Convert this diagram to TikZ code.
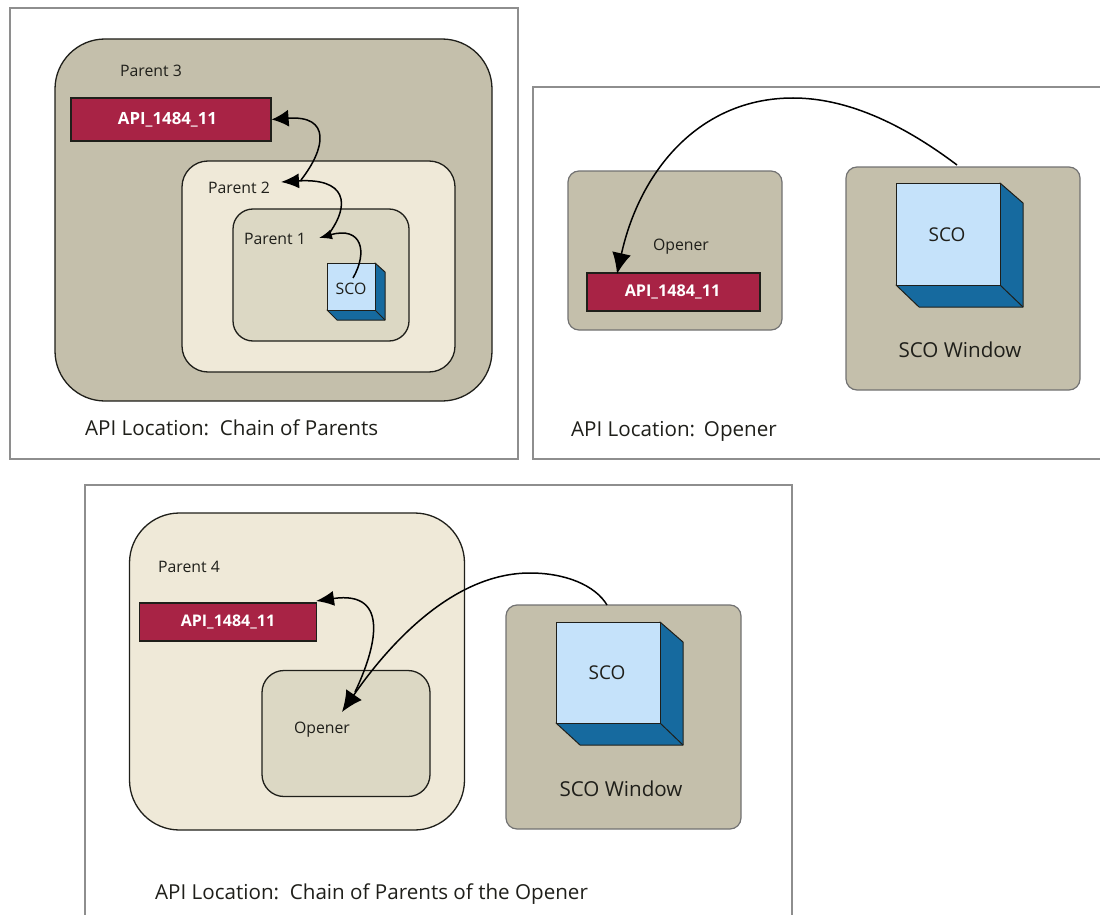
\documentclass[tikz,border=0pt]{standalone}
\usepackage{fontspec}
\setmainfont{Open Sans}
\usetikzlibrary{arrows.meta}
\definecolor{framegray}{HTML}{8E8E8E}
\definecolor{khaki}{HTML}{C4BFAB}
\definecolor{cream}{HTML}{EFE9D8}
\definecolor{pale}{HTML}{DCD8C4}
\definecolor{apired}{HTML}{A82345}
\definecolor{cubefront}{HTML}{C5E2FA}
\definecolor{cubeside}{HTML}{166A9F}
\definecolor{ink}{HTML}{1F1F1A}
\tikzset{
  panel/.style={draw=framegray,line width=1.4pt,fill=white,rectangle,inner sep=0pt},
  zone/.style={draw=ink,line width=1.3pt,rectangle,inner sep=0pt},
  winbox/.style={draw=framegray!80!black,line width=1.2pt,fill=khaki,rectangle,rounded corners=11pt,inner sep=0pt},
  apibox/.style={draw=ink,line width=1.2pt,fill=apired,rectangle,inner sep=0pt,text=white,font=\bfseries\fontsize{16.8}{19}\selectfont},
  front/.style={draw=ink,line width=1pt,fill=cubefront,rectangle,inner sep=0pt},
  side/.style={draw=ink,line width=1pt,fill=cubeside,line join=round},
  lab/.style={text=ink,inner sep=0pt,font=\fontsize{15.8}{18}\selectfont},
  biglab/.style={text=ink,inner sep=0pt,font=\fontsize{19}{22}\selectfont},
  bigcaption/.style={text=ink,inner sep=0pt,font=\fontsize{20.6}{24}\selectfont},
  link/.style={draw=black,line width=1.5pt},
  bigtip/.style={-{Latex[length=21pt,width=19pt]}},
  apitip/.style={-{Latex[length=17pt,width=17pt]}},
  midtip/.style={-{Latex[length=18pt,width=15pt]}},
  smalltip/.style={-{Latex[length=13pt,width=10pt]}},
}
\begin{document}
\begin{tikzpicture}[x=1pt,y=-1pt]
\useasboundingbox (0,0) rectangle (1100,915);
\fill[white] (0,0) rectangle (1100,915);

% Panel 1
\node[panel,minimum width=508pt,minimum height=451pt] (frameA) at (264,233.5) {};
\node[zone,fill=khaki,rounded corners=50pt,minimum width=437pt,minimum height=362pt] (parentC) at (273.5,220) {};
\node[zone,fill=cream,rounded corners=26pt,minimum width=273pt,minimum height=211pt] (parentB) at (318.5,266.5) {};
\node[zone,fill=pale,rounded corners=20pt,minimum width=176pt,minimum height=132pt] (parentA) at (321,275) {};
\node[apibox,minimum width=200pt,minimum height=43pt] (apiA) at (171,119.5) {\hspace*{-7pt}API\_1484\_11};
\draw[side] (327,310) -- (375,310) -- (375,263) -- (385,272) -- (385,320) -- (337,320) -- cycle;
\draw[side] (375,310) -- (385,320);
\node[front,minimum width=48pt,minimum height=47pt] (cubeA) at (351,286.5) {};
\node[lab] (scoA) at (351,289) {SCO};
\node[lab,anchor=west] (txtC) at (120,70.5) {Parent 3};
\node[lab,anchor=west] (txtB) at (208,187.5) {Parent 2};
\node[lab,anchor=west] (txtA) at (244,239) {Parent 1};
\node[bigcaption,anchor=west] (capA) at (85,428) {API Location:\ \ Chain of Parents};
\coordinate (tipB) at (281,182);
\coordinate (tipA) at (319,238);
\coordinate (fromB) at (301,180);
\coordinate (fromA) at (328,235);
\coordinate (fromSco) at (353,278);
\draw[link,apitip] (fromB) .. controls (326,148) and (331,115) .. (apiA.east);
\draw[link,midtip] (fromA) .. controls (352,203) and (345,178) .. (tipB);
\draw[link,smalltip] (fromSco) .. controls (368,252) and (362,226) .. (tipA);

% Panel 2
\node[panel,minimum width=580pt,minimum height=372pt] (frameB) at (823,273) {};
\node[winbox,minimum width=214pt,minimum height=159pt] (opener) at (675,250.5) {};
\node[winbox,minimum width=234pt,minimum height=223pt] (window) at (963,278.5) {};
\node[apibox,minimum width=173pt,minimum height=38pt,font=\bfseries\fontsize{16.2}{19}\selectfont] (apiB) at (673.5,292) {\hspace*{-2pt}API\_1484\_11};
\draw[side] (896,285) -- (1000,285) -- (1000,183) -- (1023,203) -- (1023,307) -- (919,307) -- cycle;
\draw[side] (1000,285) -- (1023,307);
\node[front,minimum width=104pt,minimum height=102pt] (cubeB) at (948,234) {};
\node[biglab] (scoB) at (947,235) {SCO};
\node[lab] (txtOpenB) at (681,247) {Opener};
\node[bigcaption] (winB) at (960,350) {SCO Window};
\node[bigcaption,anchor=west] (capB) at (571,431.5) {API Location:\ \,Opener};
\coordinate (startB) at (957,165);
\coordinate (midB) at (793,98);
\coordinate (tipApiB) at (617,274);
\draw[link] (startB) .. controls (900,122) and (845,98) .. (midB);
\draw[link,bigtip] (midB) .. controls (700,98) and (640,170) .. (tipApiB);

% Panel 3
\node[panel,minimum width=707pt,minimum height=440pt] (frameC) at (438.5,705) {};
\node[zone,fill=cream,rounded corners=50pt,minimum width=335pt,minimum height=317pt] (parentD) at (297,671.5) {};
\node[zone,fill=pale,rounded corners=22pt,minimum width=168pt,minimum height=126pt] (openerC) at (346,733.5) {};
\node[apibox,minimum width=177pt,minimum height=38pt,font=\bfseries\fontsize{16}{19}\selectfont] (apiC) at (228,622) {API\_1484\_11};
\node[winbox,minimum width=235pt,minimum height=224pt] (windowC) at (623.5,717) {};
\draw[side] (556,723) -- (660,723) -- (660,622) -- (683,642) -- (683,745) -- (580,745) -- cycle;
\draw[side] (660,723) -- (683,745);
\node[front,minimum width=104pt,minimum height=101pt] (cubeC) at (608,672.5) {};
\node[biglab] (scoC) at (607,672.5) {SCO};
\node[lab] (txtD) at (189,566.5) {Parent 4};
\node[lab] (txtOpenC) at (322,729.5) {Opener};
\node[bigcaption] (winC) at (621,789) {SCO Window};
\node[bigcaption,anchor=west] (capC) at (155,894.5) {API Location:\ \ Chain of Parents of the Opener};
\coordinate (startC) at (607,605);
\coordinate (midC) at (530,573);
\coordinate (tipOpener) at (342,712);
\coordinate (fromOpener) at (355,692);
\coordinate (tipApiC) at (316,601);
\draw[link] (startC) .. controls (595,585) and (565,573) .. (midC);
\draw[link,bigtip] (midC) .. controls (450,573) and (385,650) .. (tipOpener);
\draw[link,midtip] (fromOpener) .. controls (375,650) and (392,590) .. (tipApiC);
\end{tikzpicture}
\end{document}
